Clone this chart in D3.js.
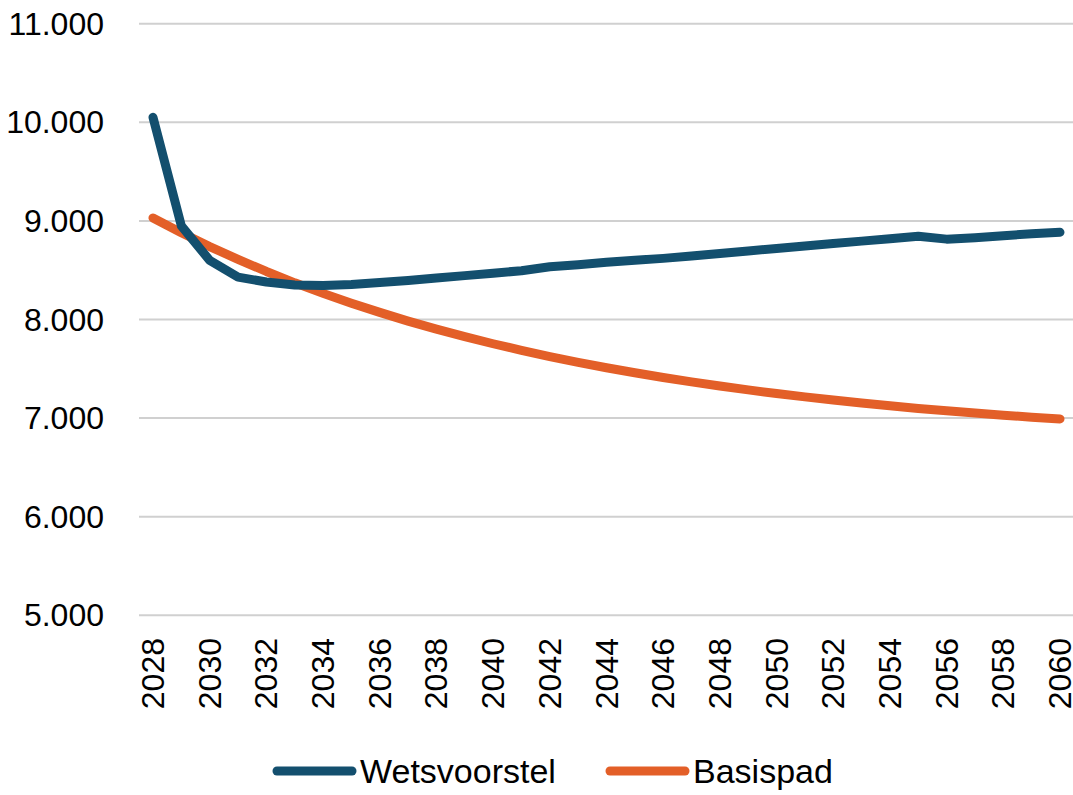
<!DOCTYPE html>
<html>
<head>
<meta charset="utf-8">
<script src="https://cdn.jsdelivr.net/npm/d3@7"></script>
<style>
  html, body { margin: 0; padding: 0; background: #fff; }
  text { font-family: "Liberation Sans", Arial, sans-serif; fill: #000; }
</style>
</head>
<body>
<svg id="chart" width="1073" height="795"></svg>
<script>
// years on the x axis
const years = d3.range(2028, 2061);
const yTicks = [5000, 6000, 7000, 8000, 9000, 10000, 11000];
const xTickYears = years.filter(y => (y - 2028) % 2 === 0);

// values
const wetsvoorstel = [10050, 8950, 8600, 8430, 8380, 8350, 8345, 8355, 8375, 8395,
  8420, 8445, 8470, 8495, 8535, 8555, 8580, 8600, 8620, 8645, 8670, 8695, 8720,
  8745, 8770, 8795, 8820, 8845, 8815, 8830, 8850, 8870, 8885];
const basispad = [9030, 8880, 8740, 8610, 8487, 8372, 8265, 8165, 8072, 7984,
  7902, 7826, 7754, 7687, 7624, 7566, 7511, 7460, 7412, 7367, 7325, 7286, 7249,
  7215, 7183, 7153, 7125, 7098, 7074, 7051, 7030, 7009, 6991];

const seriesNames = ['Wetsvoorstel', 'Basispad'];
const seriesColors = ['#134f6e', '#e35f28'];

const svg = d3.select('svg#chart');

const gridLeft = 139,
    gridRight = 1073,
    lineWidth = 9;

const x = d3.scaleLinear().domain([2028, 2060]).range([153, 1060]);
const y = d3.scaleLinear().domain([5000, 11000]).range([615.3, 23.7]);

const fmt = v => d3.format(',.0f')(v).replace(/,/g, '.');

// gridlines
svg.append('g')
    .selectAll('line')
    .data(yTicks)
    .join('line')
    .attr('x1', gridLeft)
    .attr('x2', gridRight)
    .attr('y1', d => y(d))
    .attr('y2', d => y(d))
    .attr('stroke', '#d0d0d0')
    .attr('stroke-width', 2);

// y labels
svg.append('g')
    .selectAll('text')
    .data(yTicks)
    .join('text')
    .attr('x', 104)
    .attr('y', d => y(d))
    .attr('text-anchor', 'end')
    .attr('dominant-baseline', 'central')
    .style('font-size', '32px')
    .text(fmt);

// x labels, rotated
svg.append('g')
    .selectAll('text')
    .data(xTickYears)
    .join('text')
    .attr('transform', d => `translate(${x(d)}, 638) rotate(-90)`)
    .attr('text-anchor', 'end')
    .attr('dominant-baseline', 'central')
    .style('font-size', '32px')
    .text(d => d);

// lines
const line = d3.line()
    .x((d, i) => x(years[i]))
    .y(d => y(d));

[basispad, wetsvoorstel].forEach((values, k) => {
    const color = k === 0 ? seriesColors[1] : seriesColors[0];
    svg.append('path')
        .datum(values)
        .attr('d', line)
        .attr('fill', 'none')
        .attr('stroke', color)
        .attr('stroke-width', lineWidth)
        .attr('stroke-linejoin', 'round')
        .attr('stroke-linecap', 'round');
});

// legend
const legendItems = [
    { name: seriesNames[0], color: seriesColors[0], x1: 277, x2: 352, tx: 360 },
    { name: seriesNames[1], color: seriesColors[1], x1: 610, x2: 685, tx: 693 }
];
const legendY = 771;
legendItems.forEach(item => {
    svg.append('line')
        .attr('x1', item.x1)
        .attr('x2', item.x2)
        .attr('y1', legendY)
        .attr('y2', legendY)
        .attr('stroke', item.color)
        .attr('stroke-width', lineWidth)
        .attr('stroke-linecap', 'round');
    svg.append('text')
        .attr('x', item.tx)
        .attr('y', legendY)
        .attr('dominant-baseline', 'central')
        .style('font-size', '34px')
        .text(item.name);
});
</script>
</body>
</html>
